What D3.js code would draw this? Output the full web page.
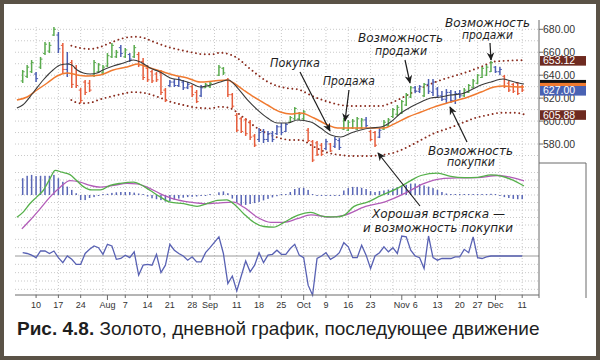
<!DOCTYPE html>
<html><head><meta charset="utf-8">
<script src="https://cdn.jsdelivr.net/npm/d3@7/dist/d3.min.js"></script>
<style>html,body{margin:0;padding:0;background:#fff;}svg{display:block;}</style>
</head><body>
<svg id="chart" width="600" height="360"></svg>
<script>
// ---------- DATA ----------
const tickIdx = [3,8,13,19,23,28,33,38,42,48,53,58,63,68,73,78,85,88,93,98,102,106,112];
const tickLbl = ["10","17","24","Aug","7","14","21","28","Sep","11","18","25","Oct","9","16","23","Nov","6","13","20","27","Dec","11"];
const monthIdx = [19,42,63,85,106];
const gridIdx = [3,8,13,18,23,28,33,38,43,48,53,58,63,68,73,78,83,88,93,98,102,107,112];
const priceTicks = [680,660,640,620,600,580];

const highs = [644.5,648.9,653.2,642.8,655.9,668.9,668.9,682.0,677.7,668.1,
660.2,653.2,648.9,628.8,635.8,635.8,653.2,650.6,648.9,659.3,
668.1,662.0,666.3,663.7,659.3,666.3,660.2,655.0,648.9,644.5,
642.8,644.5,628.8,635.8,636.7,638.4,635.8,634.1,631.4,627.1,
631.4,633.2,634.1,null,648.9,647.1,637.6,624.5,607.0,603.6,
602.7,600.9,588.7,593.9,593.1,591.3,591.3,596.6,598.3,598.3,
604.4,612.2,607.9,609.6,593.9,583.5,582.6,580.9,584.3,580.9,
586.1,585.2,602.7,600.9,601.8,603.6,602.7,603.6,592.2,591.3,
593.9,600.9,602.7,611.4,614.0,618.4,624.5,630.6,630.6,631.4,
633.2,636.7,636.7,629.7,626.2,627.9,627.1,626.2,627.1,628.8,
632.3,636.7,641.0,647.1,648.9,652.4,648.0,647.1,640.2,634.9,
633.2,634.1,631.4];
const lows = [633.2,637.6,641.9,634.1,645.4,657.6,659.3,674.2,659.3,641.9,
638.4,628.8,628.8,615.7,622.7,625.3,638.4,641.9,640.2,647.1,
655.0,655.0,655.9,655.0,651.5,655.0,647.1,635.8,634.1,633.2,
634.1,622.7,616.6,629.7,629.7,629.7,627.1,627.9,621.0,615.7,
621.0,628.8,628.8,null,639.3,640.2,621.0,611.4,590.5,589.6,
587.0,583.5,577.4,581.7,580.9,581.7,581.7,587.8,587.8,590.5,
598.3,600.9,600.9,600.9,581.7,564.3,569.5,569.5,574.8,573.0,
576.5,574.8,592.2,591.3,593.1,592.2,593.1,593.9,582.6,577.4,
585.2,592.2,594.8,602.7,604.4,606.1,613.1,620.1,624.5,624.5,
621.0,623.6,621.8,620.1,617.5,615.7,615.7,614.9,620.1,621.0,
624.5,628.8,632.3,637.6,639.3,642.8,641.9,640.2,628.8,625.3,
624.5,622.7,625.3];
const opens = [635,639,643,641,647,659,661,675,675,666,
645,651,646,627,634,633,640,643,642,648,
656,656,664,656,658,656,658,652,646,643,
641,642,627,631,634,631,634,629,630,625,
622,629,630,null,640,646,636,623,605,602,
601,599,587,584,591,584,589,589,595,591,
599,602,602,602,592,582,581,579,576,580,
578,583,593,592,594,593,594,601,591,590,
586,593,596,604,606,607,614,621,629,626,
622,632,625,628,622,619,625,618,624,622,
625,629,633,638,640,643,647,643,639,633,
632,633,630];
const closes = [643,647,651,637,654,667,666,680,663,645,
650,632,631,618,625,627,651,649,647,657,
666,660,659,662,654,664,649,638,636,635,
636,625,618,634,631,636,629,632,623,617,
629,632,633,null,647,642,623,613,592,591,
589,586,579,590,584,589,584,595,590,597,
603,611,606,608,583,566,571,571,582,574,
584,577,601,599,600,602,601,596,584,579,
592,599,601,610,612,617,623,629,626,630,
632,626,634,622,619,625,618,624,622,627,
631,635,640,646,647,651,643,645,630,627,
626,624,627];
const impulse = ["g","g","g","b","g","g","g","g","b","r",
"b","r","r","r","r","r","g","g","g","g",
"g","g","b","g","b","g","r","r","r","r",
"r","r","r","b","b","b","b","b","r","r",
"b","g","g",null,"g","g","r","r","r","r",
"r","r","r","b","b","b","b","b","b","b",
"g","g","g","g","r","r","r","r","b","r",
"b","b","g","g","g","g","g","b","r","r",
"b","g","g","g","g","g","g","g","b","b",
"g","b","b","b","b","b","b","b","b","g",
"g","g","g","g","g","g","b","b","r","r",
"r","r","r"];

const blackMA = [[-1.3,611.4],[0,614],[2.3,624.5],[4.6,635.8],[6.8,644.5],[8.4,648.9],[10,649.8],[11,648.9],[12.2,644.5],[13.6,641.9],[15.1,641.0],[16.7,641.9],[18,644.5],[20.3,648.0],[22.6,650.6],[24.8,653.2],[26.4,651.5],[28.6,646.2],[30.8,642.8],[33.1,637.6],[35.3,635.8],[37.6,633.2],[39.8,629.7],[42.1,631.4],[44.3,634.1],[46.1,635.8],[48.2,628.8],[50.4,618.4],[52.7,609.6],[54.9,602.7],[57.1,598.3],[59.4,598.3],[61.6,600.9],[64.6,599.2],[66.8,593.9],[69.1,587.8],[71.3,586.1],[73.6,589.6],[75.8,592.2],[78,593.9],[80.3,594.8],[82.5,599.2],[84.8,607.0],[87,612.2],[89.3,616.6],[91.5,620.1],[93.8,621.0],[96,622.7],[98.3,623.6],[100.5,627.1],[102.8,631.4],[105,634.1],[107.7,636.7],[109.5,634.9],[111.2,633.2],[112.4,632.3]];
const orangeMA = [[-1.3,618.4],[1,621.0],[3.2,627.1],[5.5,633.2],[7.7,639.3],[10,641.9],[12.2,640.2],[14.5,639.3],[17.4,640.2],[20.3,644.5],[23.4,647.1],[25.7,649.8],[27.9,647.1],[30.9,643.6],[33.8,640.2],[36.9,637.6],[39.8,634.1],[42.8,634.9],[45.9,635.8],[47.3,633.2],[49.5,627.1],[51.8,621.0],[54.9,614.0],[57.8,607.9],[60.1,606.1],[62.3,607.0],[65.3,602.7],[68.4,596.6],[70.6,593.9],[73.6,593.9],[77.4,593.9],[81,593.9],[83.2,597.4],[86.4,603.6],[89.3,607.9],[92.2,612.2],[96,616.6],[99.9,621.0],[102.8,625.3],[105.7,629.7],[107.9,630.6],[110.2,629.9],[112.4,629.7]];
const upperEnv = [[10.9,665.7],[12.9,663.7],[15.1,662.8],[17.4,664.6],[19.6,668.1],[21.9,671.5],[24.1,673.3],[25.2,673.5],[27,672.7],[29.3,669.2],[32.4,664.8],[35.3,662.0],[38.3,659.6],[40.5,658.2],[42.5,658.2],[44.3,659.6],[46.1,658.5],[48.2,654.7],[50.4,647.4],[52.7,640.2],[54.9,634.3],[57.1,630.6],[59.4,628.6],[61.6,627.7],[65.3,621.2],[68.4,616.9],[71.3,614.0],[74.2,613.1],[77.4,613.1],[80.3,613.1],[82.5,615.7],[84.8,619.8],[87.7,625.6],[90.9,631.4],[93.8,635.8],[96.7,639.3],[99.8,643.0],[102.8,647.4],[105.7,651.8],[108.8,652.7],[112.4,653.12]];
const lowerEnv = [[10.9,618.4],[12.9,615.5],[15.1,616.0],[17.4,619.0],[19.6,621.2],[21.9,623.3],[24.8,625.3],[27,624.7],[30.2,621.2],[33.1,616.9],[36,614.0],[39.2,611.6],[42.1,611.1],[44.3,612.5],[46.6,611.1],[48.8,605.3],[51.1,598.0],[53.3,592.2],[55.6,587.8],[57.8,585.0],[60.1,583.5],[62.3,583.5],[65.3,577.6],[68.4,572.4],[71.3,570.4],[74.2,569.5],[77.4,569.5],[80.3,570.4],[83.2,572.4],[86.4,577.6],[89.3,583.5],[92.2,589.3],[95.4,593.6],[98.3,598.0],[101.2,602.4],[104.4,605.3],[107.3,607.3],[110.2,607.3],[112.4,605.88]];

const macdLine = [[-1.3,-7.4],[0.1,-5.7],[1.6,-2.9],[3.1,-0.7],[4.6,1.5],[6.1,5.4],[7.3,8.2],[8.8,7.6],[10.6,6.8],[12.1,4.8],[13.6,2.8],[15.5,1.7],[17.4,1.7],[19.6,3.2],[21.9,3.9],[24.9,4.3],[26.4,3.5],[28.6,1.5],[30.9,-0.7],[33.1,-2.4],[36.1,-2.9],[39.1,-3.8],[41.3,-2.9],[43.6,-1.8],[45.8,-1.6],[47.3,-2.9],[49.6,-6.3],[51.8,-9.1],[54.1,-10.5],[56.3,-10.7],[58.6,-9.1],[61.6,-6.8],[64.6,-5.8],[67.6,-7.2],[70.6,-7.3],[72,-6.8],[74.3,-3.8],[77.3,-2.4],[80.3,-0.2],[84,2.2],[87,4.8],[89.3,6.5],[93,7.3],[96,6.2],[99,5.8],[102,5.9],[105,6.7],[107.3,6.3],[109.5,5.2],[112.4,3.0]];
const signalLine = [[-0.2,-11.3],[1.6,-8.5],[3.9,-4.6],[6.1,-0.7],[8.4,2.6],[10.6,4.8],[12.9,4.3],[15.1,3.2],[17.4,2.6],[20.4,3.2],[23.4,3.9],[25.6,3.7],[27.9,2.6],[30.9,0.4],[33.8,-1.3],[37.6,-2.4],[41.3,-2.9],[44.3,-2.6],[47.3,-2.4],[49.6,-4.1],[52.6,-7.4],[55.6,-9.1],[58.6,-9.1],[61.6,-7.9],[64.6,-6.6],[69.1,-7.4],[72,-6.8],[76.9,-3.8],[81.4,-2.2],[85.9,0.7],[89.9,3.8],[93.8,5.4],[97.5,5.7],[102,5.8],[106.5,6.5],[109.5,5.9],[112.4,4.7]];
const macdHist = [5.6,6.4,6.7,6.3,6.4,6.4,6.4,6.7,5.6,4.4,
2.8,1.7,0.6,-1.7,-1.7,-1.0,-0.7,-0.3,0.2,0.4,
0.7,0.9,1.0,1.0,1.0,0.8,0.5,0.1,-0.5,-1.1,
-1.4,-1.7,-2.2,-2.0,-1.6,-1.2,-0.9,-0.7,-0.6,-0.5,
-0.3,-0.1,0.2,null,0.9,1.2,0.6,-1.2,-2.5,-3.3,
-3.3,-3.0,-2.7,-2.3,-1.8,-1.3,-0.8,-0.4,0,0.3,
1.0,2.0,2.4,2.4,1.7,0.3,-0.2,-0.3,-0.3,-0.3,
-0.2,-0.1,1.5,2.3,2.7,2.7,2.4,2.0,1.3,1.0,
1.3,1.5,1.8,2.2,2.6,3.0,3.4,3.8,3.8,3.6,
3.2,2.8,2.3,1.7,1.0,0.5,0.3,0.2,0.2,0.3,
0.3,0.3,0.3,0.3,0.3,0.4,0.2,-0.3,-0.7,-1.0,
-1.3,-1.4,-1.4];
const oscValues = [4,3,1,-2,6,6,3,6,-2,-8,
0,-4,-10,-10,3,8,12,10,2,14,
12,-4,-3,1,-2,5,-23,-11,-10,-11,
2,-20,-11,14,7,3,0,-5,-1,-7,
-7,4,10,null,23,3,-33,-24,-42,-24,
-6,-19,-11,4,-8,1,2,7,2,2,
9,14,1,-2,-35,-47,-3,0,4,-4,
-1,4,16,11,-2,-2,13,1,-15,0,
4,11,5,10,3,24,23,7,0,-2,
-15,24,-2,-5,-3,-3,-3,-1,-1,8,
4,23,-2,-3,-1,0,0,0,0,0,
0,0,0];

// ---------- CHART ----------
const svg = d3.select('#chart');
const colors = {g:'#5aab4e', b:'#4b5db2', r:'#e65d3c'};
const gridCol = '#c9c9c9';
const L = 15, R = 539;
const sans = 'Liberation Sans, Arial, sans-serif';

svg.append('rect').attr('x',2).attr('y',2).attr('width',596).attr('height',356)
  .attr('fill','#fff').attr('stroke','#5a5246').attr('stroke-width',4);

const x = d3.scaleLinear().domain([0,112]).range([22.7,522.2]);
const yP = d3.scaleLinear().domain([570,680]).range([155.5,29.3]);
const yM = d3.scaleLinear().domain([-12,10]).range([231,165]);
const yO = d3.scaleLinear().domain([-48,24]).range([296,236]);

const defs = svg.append('defs');
defs.append('clipPath').attr('id','cm').append('rect').attr('x',L).attr('y',165).attr('width',R-L).attr('height',66);
defs.append('marker').attr('id','ah').attr('viewBox','0 0 10 10').attr('refX',9).attr('refY',5)
  .attr('markerWidth',7).attr('markerHeight',7).attr('orient','auto')
  .append('path').attr('d','M0,0.5 L10,5 L0,9.5 L3,5 z').attr('fill','#1e1e1e');

// grid
const g = svg.append('g');
g.selectAll('.vg').data(gridIdx).enter().append('line')
  .attr('x1',d=>x(d)).attr('x2',d=>x(d)).attr('y1',27).attr('y2',295)
  .attr('stroke',gridCol).attr('stroke-dasharray','1,2');
const hLines = [].concat(
  d3.range(570,681,10).map(v=>yP(v)),
  [-10,-7.5,-5,-2.5,0,2.5,5,7.5].map(v=>yM(v)),
  [-40,-30,-20,-10,10,20].map(v=>yO(v)));
g.selectAll('.hg').data(hLines).enter().append('line')
  .attr('x1',L).attr('x2',R).attr('y1',d=>d).attr('y2',d=>d)
  .attr('stroke',gridCol).attr('stroke-dasharray','1,2');

// envelopes
const lineP = d3.line().x(d=>x(d[0])).y(d=>yP(d[1])).curve(d3.curveMonotoneX);
[upperEnv, lowerEnv].forEach(arr=>{
  svg.append('path').attr('d',lineP(arr)).attr('fill','none').attr('stroke','#8a2c1e')
    .attr('stroke-width',1.9).attr('stroke-linecap','round').attr('stroke-dasharray','0.01,4.45');
});

// bars
const idx = d3.range(highs.length).filter(i=>highs[i]!==null);
const bars = svg.append('g');
idx.forEach(i=>{
  const c = colors[impulse[i]];
  const xi = x(i);
  bars.append('line').attr('x1',xi).attr('x2',xi).attr('y1',yP(highs[i])).attr('y2',yP(lows[i]))
    .attr('stroke',c).attr('stroke-width',1.5);
  bars.append('line').attr('x1',xi-2).attr('x2',xi).attr('y1',yP(opens[i])).attr('y2',yP(opens[i]))
    .attr('stroke',c).attr('stroke-width',1);
  bars.append('line').attr('x1',xi).attr('x2',xi+2).attr('y1',yP(closes[i])).attr('y2',yP(closes[i]))
    .attr('stroke',c).attr('stroke-width',1);
});

// moving averages
svg.append('path').attr('d',lineP(orangeMA)).attr('fill','none').attr('stroke','#f07a30').attr('stroke-width',1.5);
svg.append('path').attr('d',lineP(blackMA)).attr('fill','none').attr('stroke','#3a3a3a').attr('stroke-width',1.1);

// MACD panel
const mg = svg.append('g').attr('clip-path','url(#cm)');
d3.range(macdHist.length).filter(i=>macdHist[i]!==null).forEach(i=>{
  const v = macdHist[i];
  const y0 = yM(0), y1 = yM(v);
  const h = Math.max(Math.abs(y1-y0),1);
  mg.append('rect').attr('x',x(i)-0.75).attr('width',1.5)
    .attr('y', v>=0 ? y0-h : y0).attr('height',h).attr('fill','#5a67b6');
});
const lineM = d3.line().x(d=>x(d[0])).y(d=>yM(d[1])).curve(d3.curveMonotoneX);
mg.append('path').attr('d',lineM(signalLine)).attr('fill','none').attr('stroke','#b25cb8').attr('stroke-width',1.3);
mg.append('path').attr('d',lineM(macdLine)).attr('fill','none').attr('stroke','#55b04a').attr('stroke-width',1.3);

// oscillator panel
svg.append('line').attr('x1',L).attr('x2',R).attr('y1',yO(0)).attr('y2',yO(0)).attr('stroke','#9a9a9a').attr('stroke-width',1);
const oscPts = d3.range(oscValues.length).filter(i=>oscValues[i]!==null).map(i=>[i,oscValues[i]]);
svg.append('path').attr('d',d3.line().x(d=>x(d[0])).y(d=>yO(d[1]))(oscPts))
  .attr('fill','none').attr('stroke','#5861b3').attr('stroke-width',1.3);

// axes frame
const axc = '#6a6a6a';
svg.append('line').attr('x1',L).attr('x2',R).attr('y1',295).attr('y2',295).attr('stroke',axc);
svg.append('line').attr('x1',R).attr('x2',R).attr('y1',20).attr('y2',298).attr('stroke',axc);
svg.append('line').attr('x1',R).attr('x2',586).attr('y1',163).attr('y2',163).attr('stroke',axc);
svg.append('line').attr('x1',586).attr('x2',586).attr('y1',163).attr('y2',298).attr('stroke',axc);

// x ticks
svg.selectAll('.xt').data(tickIdx).enter().append('line')
  .attr('x1',d=>x(d)).attr('x2',d=>x(d)).attr('y1',295)
  .attr('y2',d=>monthIdx.includes(d)?300:298).attr('stroke',axc);
svg.selectAll('.xl').data(tickIdx).enter().append('text')
  .attr('x',d=>x(d)).attr('y',307.5).attr('text-anchor','middle')
  .attr('font-family',sans).attr('font-size',9).attr('fill','#333')
  .text((d,i)=>tickLbl[i]);

// right price axis
svg.selectAll('.pt').data(priceTicks).enter().append('line')
  .attr('x1',R).attr('x2',R+4).attr('y1',d=>yP(d)).attr('y2',d=>yP(d)).attr('stroke',axc);
svg.selectAll('.pl').data(priceTicks).enter().append('text')
  .attr('x',R+4).attr('y',d=>yP(d)+3.6)
  .attr('font-family',sans).attr('font-size',10.5).attr('fill','#333')
  .text(d=>d3.format('.2f')(d));

// value boxes (black / orange strips are mostly covered in the reference)
const fmt = d3.format('.2f');
const boxes = [
  {v: blackMA[blackMA.length-1][1], fill:'#111', label:false},
  {v: orangeMA[orangeMA.length-1][1], fill:'#f07a30', label:false},
  {v: upperEnv[upperEnv.length-1][1], fill:'#6e2a20', label:true},
  {v: lowerEnv[lowerEnv.length-1][1], fill:'#6e2a20', label:true},
  {v: closes[closes.length-1], fill:'#4a62b3', label:true}
];
boxes.forEach(b=>{
  const yc = yP(b.v)+0.7;
  svg.append('rect').attr('x',R+1).attr('y',yc-4.8).attr('width',586-R-1).attr('height',9.6).attr('fill',b.fill);
  if (b.label) svg.append('text').attr('x',R+4).attr('y',yc+3.6)
    .attr('font-family',sans).attr('font-size',10.5).attr('fill','#fff')
    .text(fmt(b.v));
});

// annotations
const ann = svg.append('g').attr('font-family','DejaVu Sans, sans-serif').attr('font-style','italic')
  .attr('font-size',12.5).attr('fill','#1e1e1e');
const notes = [
  {t:'Покупка', x:270, y:67, w:50},
  {t:'Продажа', x:323, y:85, w:52},
  {t:'Возможность', x:358, y:42, w:85},
  {t:'продажи', x:375, y:55, w:52},
  {t:'Возможность', x:445, y:27, w:85},
  {t:'продажи', x:462, y:39, w:51},
  {t:'Возможность', x:428, y:155, w:85},
  {t:'покупки', x:447, y:166, w:48},
  {t:'Хорошая встряска —', x:372, y:218, w:133},
  {t:'и возможность покупки', x:363, y:232, w:150}
];
notes.forEach(n=>{
  ann.append('text').attr('x',n.x).attr('y',n.y).attr('textLength',n.w).attr('lengthAdjust','spacingAndGlyphs')
    .attr('stroke','#fff').attr('stroke-width',3).attr('stroke-linejoin','round').attr('paint-order','stroke')
    .text(n.t);
});
const arrows = [
  [300,72,330,131],[349,90,345,121],[405,60,410,83],[490,43,491,60],[467,142,450,107],[420,206,378,153]
];
arrows.forEach(a=>{
  svg.append('line').attr('x1',a[0]).attr('y1',a[1]).attr('x2',a[2]).attr('y2',a[3])
    .attr('stroke','#1e1e1e').attr('stroke-width',1.2).attr('marker-end','url(#ah)');
});

// caption
const cap = svg.append('text').attr('x',17).attr('y',335)
  .attr('font-family',sans).attr('font-size',19).attr('fill','#1e1e1e');
cap.append('tspan').attr('font-weight','bold').text('Рис. 4.8.');
cap.append('tspan').text(' Золото, дневной график, последующее движение');
</script>
</body></html>
